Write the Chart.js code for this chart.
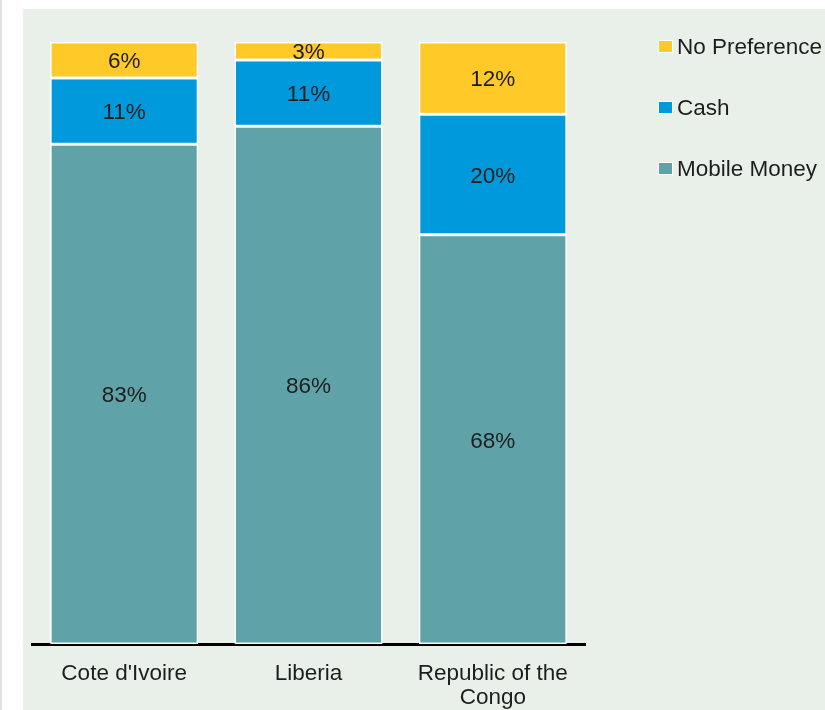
<!DOCTYPE html>
<html>
<head>
<meta charset="utf-8">
<script src="https://cdn.jsdelivr.net/npm/chart.js@4"></script>
<style>
  html, body { margin: 0; padding: 0; background: #ffffff; }
  #wrap { position: relative; width: 825px; height: 710px; overflow: hidden; }
  #edge { position: absolute; left: 0; top: 0; width: 2px; height: 710px; background: #e2e2e2; }
  #panel { position: absolute; left: 23px; top: 9px; width: 802px; height: 701px; background: #e9f0ea; }
  #c { position: absolute; left: 0; top: 0; }
</style>
</head>
<body>
<div id="wrap">
  <div id="edge"></div>
  <div id="panel"></div>
  <canvas id="c" width="825" height="710"></canvas>
</div>
<script>
const categories = [["Cote d'Ivoire"], ["Liberia"], ["Republic of the", "Congo"]];
const mobileMoney = [83, 86, 68];
const cash = [11, 11, 20];
const noPreference = [6, 3, 12];
const seriesNames = ["Mobile Money", "Cash", "No Preference"];
const seriesColors = ["#5fa2a8", "#009adc", "#ffc928"];

const FONT = "'Liberation Sans', Arial, Helvetica, sans-serif";
const TEXT = "#1e1e1e";
const FS = 22.5;

const valueLabels = {
  id: 'valueLabels',
  afterDatasetsDraw(chart) {
    const ctx = chart.ctx;
    ctx.save();
    ctx.font = FS + "px " + FONT;
    ctx.fillStyle = TEXT;
    ctx.textAlign = 'center';
    ctx.textBaseline = 'middle';
    chart.data.datasets.forEach((ds, i) => {
      const meta = chart.getDatasetMeta(i);
      meta.data.forEach((bar, j) => {
        const p = bar.getProps(['x', 'y', 'base'], true);
        const cy = (p.y + p.base) / 2;
        ctx.fillText(ds.data[j] + '%', p.x, cy + 2);
      });
    });
    ctx.restore();
  }
};

const customLegend = {
  id: 'customLegend',
  afterDraw(chart) {
    const ctx = chart.ctx;
    ctx.save();
    ctx.font = FS + "px " + FONT;
    ctx.textAlign = 'left';
    ctx.textBaseline = 'middle';
    const ds = chart.data.datasets.slice().reverse();
    ds.forEach((d, k) => {
      const cy = 47 + k * 61;
      ctx.fillStyle = '#ffffff';
      ctx.fillRect(658, cy - 7, 15, 13);
      ctx.fillStyle = d.backgroundColor;
      ctx.fillRect(659, cy - 6, 13, 11);
      ctx.fillStyle = TEXT;
      ctx.fillText(d.label, 677, cy + 1);
    });
    ctx.restore();
  }
};

new Chart(document.getElementById('c'), {
  type: 'bar',
  data: {
    labels: categories,
    datasets: [
      { label: seriesNames[0], data: mobileMoney, backgroundColor: seriesColors[0] },
      { label: seriesNames[1], data: cash, backgroundColor: seriesColors[1] },
      { label: seriesNames[2], data: noPreference, backgroundColor: seriesColors[2] }
    ].map(d => Object.assign(d, {
      borderColor: '#ffffff', borderWidth: 1.5, borderSkipped: false,
      categoryPercentage: 1.0, barPercentage: 0.803
    }))
  },
  options: {
    responsive: false,
    animation: false,
    devicePixelRatio: 1,
    layout: { padding: { left: 32, right: 240, top: 42, bottom: 0 } },
    plugins: { legend: { display: false }, tooltip: { enabled: false } },
    scales: {
      x: {
        stacked: true,
        grid: { display: false, drawTicks: false },
        border: { display: true, color: '#000000', width: 3 },
        ticks: { color: TEXT, font: { family: FONT, size: FS, lineHeight: 1.1 }, padding: 17, maxRotation: 0, autoSkip: false },
        afterFit(scale) { scale.height = 66; }
      },
      y: {
        stacked: true,
        min: 0, max: 100,
        display: false
      }
    }
  },
  plugins: [valueLabels, customLegend]
});
</script>
</body>
</html>
